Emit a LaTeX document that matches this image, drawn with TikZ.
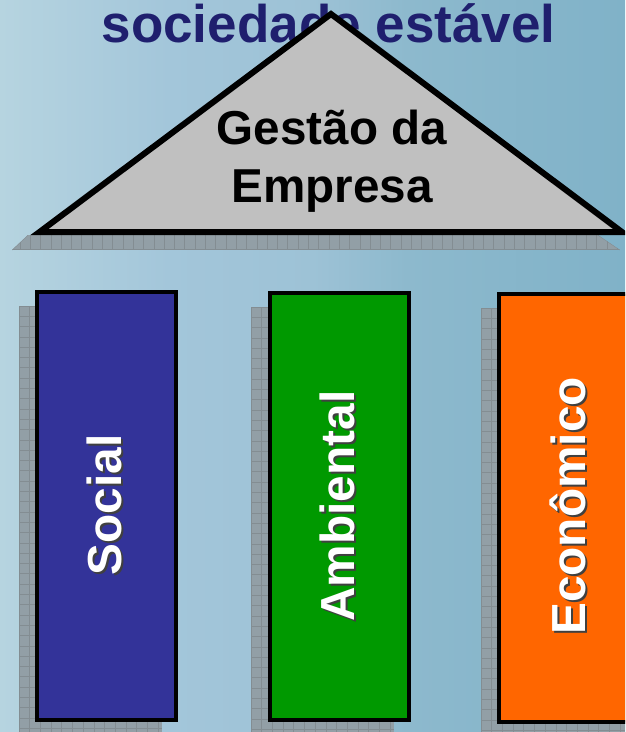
\documentclass[tikz,border=0pt]{standalone}
\usepackage{fontspec}
\setmainfont{Liberation Sans}
\usetikzlibrary{shadings}
\definecolor{titleblue}{HTML}{1F1F6E}
\definecolor{roofgray}{HTML}{C0C0C0}
\definecolor{socialblue}{HTML}{333399}
\definecolor{ambgreen}{HTML}{009900}
\definecolor{econorange}{HTML}{FF6600}
\definecolor{shadowgray}{HTML}{929FA6}
\definecolor{gridgray}{HTML}{838D92}
\definecolor{bga}{HTML}{B6D4E0}
\definecolor{bgb}{HTML}{A3C6DA}
\definecolor{bgc}{HTML}{9DC2D6}
\definecolor{bgd}{HTML}{8DB9CD}
\definecolor{bge}{HTML}{80B2C8}
\pgfdeclarehorizontalshading{bgshade}{100bp}{
  color(0bp)=(bga);color(25bp)=(bga);color(38.5bp)=(bgb);color(50bp)=(bgc);color(57.5bp)=(bgd);color(75bp)=(bge);color(100bp)=(bge)}
\tikzset{
  x=1pt,y=-1pt,
  titletext/.style={font=\bfseries\fontsize{53}{53}\selectfont,text=titleblue,inner sep=0pt,anchor=base},
  rooftext/.style={font=\bfseries\fontsize{47.6}{58}\selectfont,text=black,inner sep=0pt,align=center,anchor=base},
  pillar/.style={draw=black,line width=4pt,inner sep=0pt,anchor=north west},
  pillartext/.style={font=\bfseries\fontsize{47.8}{48}\selectfont,inner sep=0pt,rotate=90},
  gridline/.style={draw=gridgray,line width=0.7pt}
}
\newcommand{\gridshadow}[4]{%
  \fill[shadowgray] (#1,#2) rectangle (#3,#4);
  \begin{scope}
    \clip (#1,#2) rectangle (#3,#4);
    \foreach \k in {0,...,14} {\draw[gridline] ({#1+10.7*\k},#2) -- ({#1+10.7*\k},#4);}
    \foreach \k in {0,...,42} {\draw[gridline] (#1,{#2+10.3*\k}) -- (#3,{#2+10.3*\k});}
  \end{scope}}
\begin{document}
\begin{tikzpicture}
\useasboundingbox (0,0) rectangle (625,732);
\begin{scope}
\clip (0,0) rectangle (625,732);
\shade[shading=bgshade] (0,0) rectangle (625,732);
% title
\node[titletext] (title) at (328.5,42) {sociedade estável};
% roof shadow
\begin{scope}
  \clip (28,235) -- (598,235) -- (620,250) -- (12,250) -- cycle;
  \fill[shadowgray] (12,235) rectangle (620,250);
  \foreach \k in {0,...,58} {\draw[gridline] ({20+10.3*\k},235) -- ({20+10.3*\k},250);}
  \draw[gridline] (12,249.5) -- (620,249.5);
  \draw[gridline] (28,235) -- (12,250);
  \draw[gridline] (598,235) -- (620,250);
\end{scope}
% roof
\coordinate (apex) at (331,14);
\coordinate (roofleft) at (39.5,232);
\coordinate (roofright) at (622,232);
\draw[fill=roofgray,draw=black,line width=6pt,miter limit=10] (roofleft) -- (apex) -- (roofright) -- cycle;
\node[rooftext] (gestao) at (332,144) {Gestão da};
\node[rooftext] (empresa) at (332,202) {Empresa};
% pillar shadows
\gridshadow{19}{306}{162}{732}
\gridshadow{251}{307}{394}{732}
\gridshadow{481}{308}{625}{732}
% pillars
\node[pillar,fill=socialblue,minimum width=139pt,minimum height=428pt] (social) at (35,290) {};
\node[pillar,fill=ambgreen,minimum width=139pt,minimum height=427pt] (ambiental) at (268,291) {};
\node[pillar,fill=econorange,minimum width=139pt,minimum height=428pt] (economico) at (497,292) {};
% labels with drop shadow
\node[pillartext,text=black!75] at (106.5,507) {Social};
\node[pillartext,text=white] (sociallabel) at (104.5,505) {Social};
\node[pillartext,text=black!75] at (339,508) {Ambiental};
\node[pillartext,text=white] (ambientallabel) at (337,506) {Ambiental};
\node[pillartext,text=black!75] at (570,508) {Econômico};
\node[pillartext,text=white] (economicolabel) at (568,506) {Econômico};
\end{scope}
\end{tikzpicture}
\end{document}
